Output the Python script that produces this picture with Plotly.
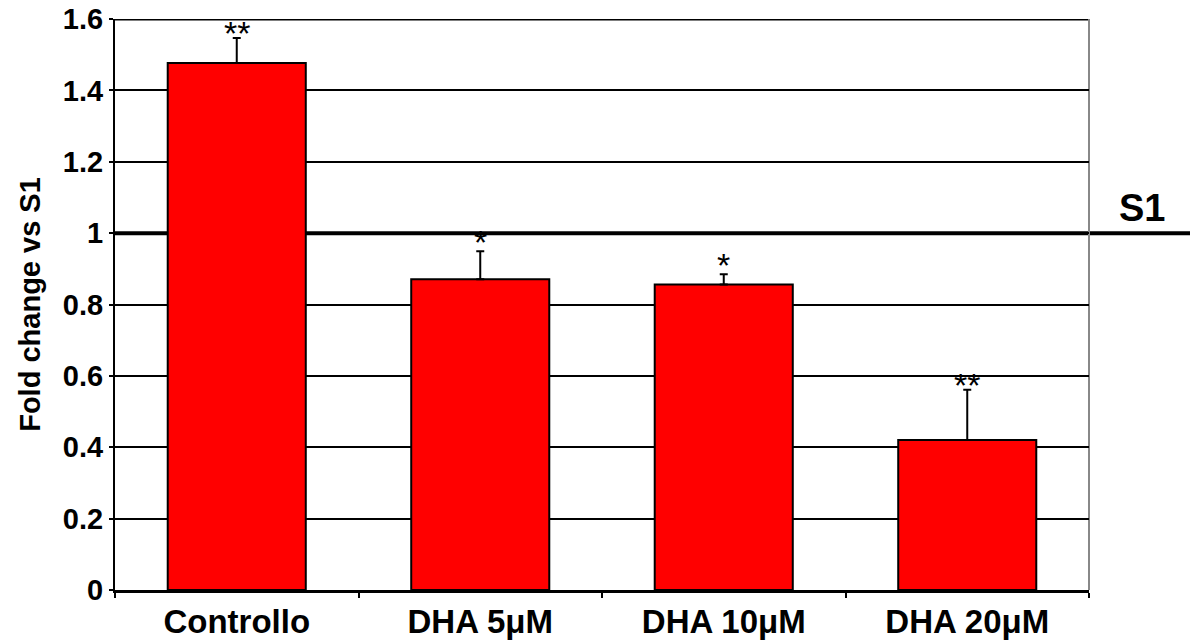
import plotly.graph_objects as go

categories = ["Controllo", "DHA 5\u03bcM", "DHA 10\u03bcM", "DHA 20\u03bcM"]
values = [1.477, 0.871, 0.856, 0.420]
errors = [0.070, 0.078, 0.029, 0.141]
stars = ["**", "*", "*", "**"]
star_y = [1.562, 0.975, 0.910, 0.575]
y_ticks = [0, 0.2, 0.4, 0.6, 0.8, 1, 1.2, 1.4, 1.6]
y_tick_text = ["0", "0.2", "0.4", "0.6", "0.8", "1", "1.2", "1.4", "1.6"]
ref_value = 1.0
ref_label = "S1"

FONT = "Liberation Sans"

fig = go.Figure()
fig.add_trace(go.Bar(
    x=categories, y=values,
    marker=dict(color="#ff0000", line=dict(color="black", width=2)),
    width=0.567,
    error_y=dict(type="data", array=errors, arrayminus=[0]*4, symmetric=False,
                 color="black", thickness=2, width=4),
    showlegend=False,
))

for c, s, sy in zip(categories, stars, star_y):
    fig.add_annotation(x=c, y=sy, text=s, showarrow=False,
                       font=dict(family=FONT, size=34, color="black"),
                       yanchor="middle")

# reference line S1
fig.add_shape(type="line", xref="paper", yref="y", x0=0, x1=1.11, y0=ref_value, y1=ref_value,
              line=dict(color="black", width=4), layer="below")
fig.add_annotation(xref="paper", yref="y", x=1.08, y=ref_value, yanchor="bottom", yshift=2,
                   text="<b>" + ref_label + "</b>", showarrow=False,
                   font=dict(family=FONT, size=38, color="black"))
# top border and right border
fig.add_shape(type="line", xref="paper", yref="y", x0=0, x1=1, y0=1.6, y1=1.6,
              line=dict(color="black", width=3), layer="below")
fig.add_shape(type="line", xref="paper", yref="paper", x0=1, x1=1, y0=0, y1=1,
              line=dict(color="#888888", width=2), layer="below")

fig.update_layout(
    width=1190, height=640,
    margin=dict(l=115, r=101, t=19, b=50),
    plot_bgcolor="white", paper_bgcolor="white",
    font=dict(family=FONT, color="black"),
    bargap=0.433,
)
fig.update_xaxes(
    range=[-0.5, 3.5], automargin=False,
    showline=True, linecolor="black", linewidth=3,
    ticks="outside", tickson="boundaries", ticklen=5, tickwidth=2, tickcolor="black",
    tickfont=dict(family=FONT, size=33, color="black"),
    tickvals=categories, ticktext=["<b>" + c + "</b>" for c in categories],
    showgrid=False,
)
fig.update_yaxes(
    range=[0, 1.6], automargin=False,
    tickvals=y_ticks, ticktext=["<b>" + t + "</b>" for t in y_tick_text],
    tickfont=dict(family=FONT, size=29, color="black"),
    ticks="outside", ticklen=4, tickwidth=2, tickcolor="black",
    showline=True, linecolor="black", linewidth=2,
    showgrid=True, gridcolor="black", gridwidth=2,
    zeroline=False,
    title=dict(text="<b>Fold change vs S1</b>", font=dict(family=FONT, size=29, color="black"), standoff=14),
)

fig.write_html("out.html")
